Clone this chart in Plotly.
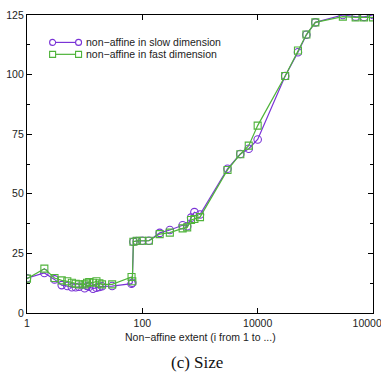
import plotly.graph_objects as go

# Non-affine extent (x) and resulting size for both dimensions
extent = [1, 2, 3, 4, 5, 6, 7, 8, 10, 11, 12, 14, 16, 18, 20, 30,
          65, 67, 70, 80, 100, 130, 200, 300, 500, 600, 700, 800, 1000,
          3000, 5000, 7000, 10000, 30000, 50000, 70000, 100000,
          300000, 500000, 700000, 1000000]

size_slow = [14.6, 16.8, 14.1, 11.7, 11.3, 10.8, 10.8, 11.0, 10.4, 11.3, 11.0, 10.2, 10.6, 10.9, 11.2, 11.3,
             12.3, 12.7, 29.9, 30.2, 30.3, 30.3, 33.6, 34.8, 36.8, 36.4, 40.0, 42.3, 41.3,
             60.5, 66.7, 68.9, 72.8, 99.4, 109.4, 116.7, 121.9,
             125.0, 124.3, 124.2, 125.0]

size_fast = [14.4, 18.6, 14.7, 13.7, 13.3, 12.7, 12.3, 12.0, 12.0, 12.7, 13.0, 12.7, 13.3, 12.5, 12.0, 12.0,
             15.1, 13.3, 29.9, 30.3, 30.3, 30.3, 33.1, 33.7, 35.5, 35.9, 39.0, 39.4, 40.2,
             60.0, 66.6, 70.2, 78.6, 99.4, 110.1, 116.8, 121.9,
             124.3, 124.0, 124.0, 124.0]

series_names = ["non\u2212affine in slow dimension", "non\u2212affine in fast dimension"]
x_tick_vals = [1, 100, 10000, 1000000]
x_tick_text = ["1", "100", "10000", "1000000"]
y_tick_vals = [0, 25, 50, 75, 100, 125]

PURPLE = "#7a33d6"
GREEN = "#4fb33a"
SANS = "Liberation Sans, Arial, sans-serif"

fig = go.Figure()
fig.add_trace(go.Scatter(
    x=extent, y=size_slow, mode="lines+markers", name=series_names[0],
    line=dict(color=PURPLE, width=1.2),
    marker=dict(symbol="circle-open", size=7.5, color=PURPLE, line=dict(width=1.1)),
    showlegend=False,
))
fig.add_trace(go.Scatter(
    x=extent, y=size_fast, mode="lines+markers", name=series_names[1],
    line=dict(color=GREEN, width=1.2),
    marker=dict(symbol="square-open", size=7, color=GREEN, line=dict(width=1.1)),
    showlegend=False,
))

# Key in the gnuplot style: a sample line with a marker at each end
shapes = []
annotations = []
key_rows = [(0.908, PURPLE, "circle"), (0.868, GREEN, "rect")]
for (ky, col, kind), label in zip(key_rows, series_names):
    x0, x1 = 0.074, 0.149
    shapes.append(dict(type="line", xref="paper", yref="paper", x0=x0, x1=x1, y0=ky, y1=ky,
                       line=dict(color=col, width=1.2)))
    for xa in (x0, x1):
        shapes.append(dict(type=kind, xref="paper", yref="paper",
                           xsizemode="pixel", ysizemode="pixel",
                           xanchor=xa, yanchor=ky, x0=-3, x1=3, y0=-3, y1=3,
                           line=dict(color=col, width=1.1), fillcolor="white"))
    annotations.append(dict(xref="paper", yref="paper", x=0.166, y=ky, text=label,
                            showarrow=False, xanchor="left", yanchor="middle",
                            font=dict(family=SANS, size=10.5, color="#222")))

annotations.append(dict(xref="paper", yref="paper", x=0.5, y=-0.082,
                        text="Non\u2212affine extent (i from 1 to ...)", showarrow=False,
                        xanchor="center", yanchor="middle",
                        font=dict(family=SANS, size=10.5, color="#222")))
annotations.append(dict(xref="paper", yref="paper", x=0.49, y=-0.167,
                        text="(c) Size", showarrow=False,
                        xanchor="center", yanchor="middle",
                        font=dict(family="Liberation Serif, Times New Roman, serif", size=17, color="#111")))

fig.update_layout(
    width=381, height=374,
    margin=dict(l=27, r=8, t=15, b=61),
    paper_bgcolor="white", plot_bgcolor="white",
    shapes=shapes, annotations=annotations,
    font=dict(family=SANS, size=10.5, color="#222"),
)
fig.update_xaxes(
    type="log", range=[0, 6], tickvals=x_tick_vals, ticktext=x_tick_text,
    ticklabeloverflow="allow", automargin=False,
    ticks="inside", ticklen=5, tickwidth=1, tickcolor="black",
    showline=True, linecolor="black", linewidth=1.3, mirror="ticks",
    showgrid=False, zeroline=False,
)
fig.update_yaxes(
    range=[0, 125], tickvals=y_tick_vals, automargin=False,
    ticks="inside", ticklen=5, tickwidth=1, tickcolor="black",
    minor=dict(ticks="inside", ticklen=3, dtick=12.5, tick0=0, tickcolor="black", showgrid=False),
    showline=True, linecolor="black", linewidth=1.3, mirror="ticks",
    showgrid=False, zeroline=False,
)

fig.write_html("out.html")
